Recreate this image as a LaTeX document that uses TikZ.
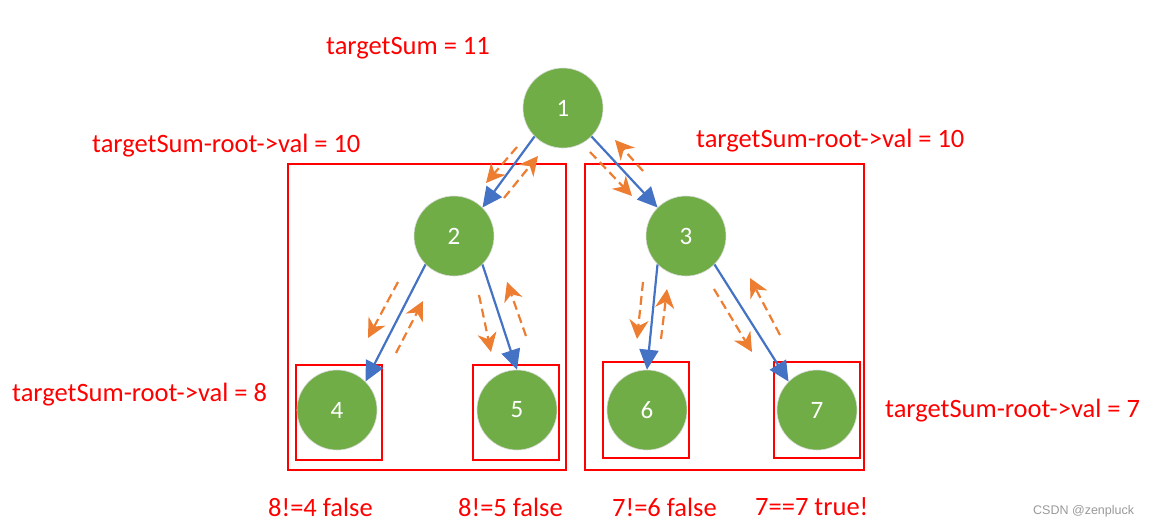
\documentclass[tikz,border=0pt]{standalone}
\usepackage{fontspec}
\setmainfont{Carlito}
\newfontfamily\wmfont{Liberation Sans}
\usetikzlibrary{arrows.meta}
\definecolor{nodegreen}{HTML}{70AD47}
\definecolor{edgeblue}{HTML}{4472C4}
\definecolor{trorange}{HTML}{ED7D31}
\definecolor{wmgray}{HTML}{999999}
\tikzset{
  treenode/.style={circle, minimum size=80pt, inner sep=0pt, fill=nodegreen, draw=black!15, line width=0.6pt, text=white, font=\fontsize{25}{28}\selectfont},
  redbox/.style={draw=red, line width=1.6pt},
  edge/.style={draw=edgeblue, line width=2.2pt, -{Triangle[length=20pt,width=19pt]}},
  trace/.style={draw=trorange, line width=2.2pt, dash pattern=on 9pt off 5pt, -{Stealth[length=19pt,width=19pt,inset=6pt]}},
  lab/.style={text=red, font=\fontsize{26.5}{30}\selectfont, inner sep=0pt, anchor=west},
}
\begin{document}
\begin{tikzpicture}[x=1pt,y=-1pt]
\useasboundingbox (0,0) rectangle (1154,528);
% boxes
\draw[redbox] (288,164) rectangle (566,470);
\draw[redbox] (585,164) rectangle (864,470);
\draw[redbox] (296,365) rectangle (382,460);
\draw[redbox] (473,365) rectangle (559,460);
\draw[redbox] (603,362) rectangle (689,458);
\draw[redbox] (774,362) rectangle (860,458);
% nodes
\node[treenode] (n1) at (563,108) {1};
\node[treenode] (n2) at (454,236) {2};
\node[treenode] (n3) at (686,236) {3};
\node[treenode] (n4) at (337,410) {4};
\node[treenode] (n5) at (517,410) {5};
\node[treenode] (n6) at (647,410) {6};
\node[treenode] (n7) at (817,410) {7};
% edges
\draw[edge] (n1.225) -- (n2.45);
\draw[edge] (n1.315) -- (n3.135);
\draw[edge] (n2.225) -- (n4.45);
\draw[edge] (n2.315) -- (n5.north);
\draw[edge] (n3.225) -- (n6.north);
\draw[edge] (n3.315) -- (n7.135);
% trace coordinates
\coordinate (a1s) at (517,147); \coordinate (a1e) at (486,183);
\coordinate (b1s) at (504,198); \coordinate (b1e) at (538,156);
\coordinate (a2s) at (590,152); \coordinate (a2e) at (632,196);
\coordinate (b2s) at (643,171); \coordinate (b2e) at (615,140);
\coordinate (a3s) at (398,282); \coordinate (a3e) at (368,338);
\coordinate (b3s) at (396,353); \coordinate (b3e) at (423,301);
\coordinate (a4s) at (479,295); \coordinate (a4e) at (491,352);
\coordinate (b4s) at (526,336); \coordinate (b4e) at (507,282);
\coordinate (a5s) at (643,282); \coordinate (a5e) at (637,339);
\coordinate (b5s) at (661,339); \coordinate (b5e) at (667,289);
\coordinate (a6s) at (714,289); \coordinate (a6e) at (752,352);
\coordinate (b6s) at (780,335); \coordinate (b6e) at (750,278);
\foreach \p in {a1,b1,a2,b2,a3,b3,a4,b4,a5,b5,a6,b6}
  \draw[trace] (\p s) -- (\p e);
% labels
\node[lab] (t0) at (326,48) {targetSum = 11};
\node[lab] (t1) at (92,146) {targetSum-root->val = 10};
\node[lab] (t2) at (696,141) {targetSum-root->val = 10};
\node[lab] (t3) at (12,395) {targetSum-root->val = 8};
\node[lab] (t4) at (885,411) {targetSum-root->val = 7};
\node[lab] (r4) at (268,507) {8!=4 false};
\node[lab] (r5) at (458,507) {8!=5 false};
\node[lab] (r6) at (612,507) {7!=6 false};
\node[lab] (r7) at (755,507) {7==7 true!};
\node[text=wmgray, font=\wmfont\fontsize{12.5}{14}\selectfont, inner sep=0pt, anchor=west] (wm) at (1033,511) {CSDN @zenpluck};
\end{tikzpicture}
\end{document}
